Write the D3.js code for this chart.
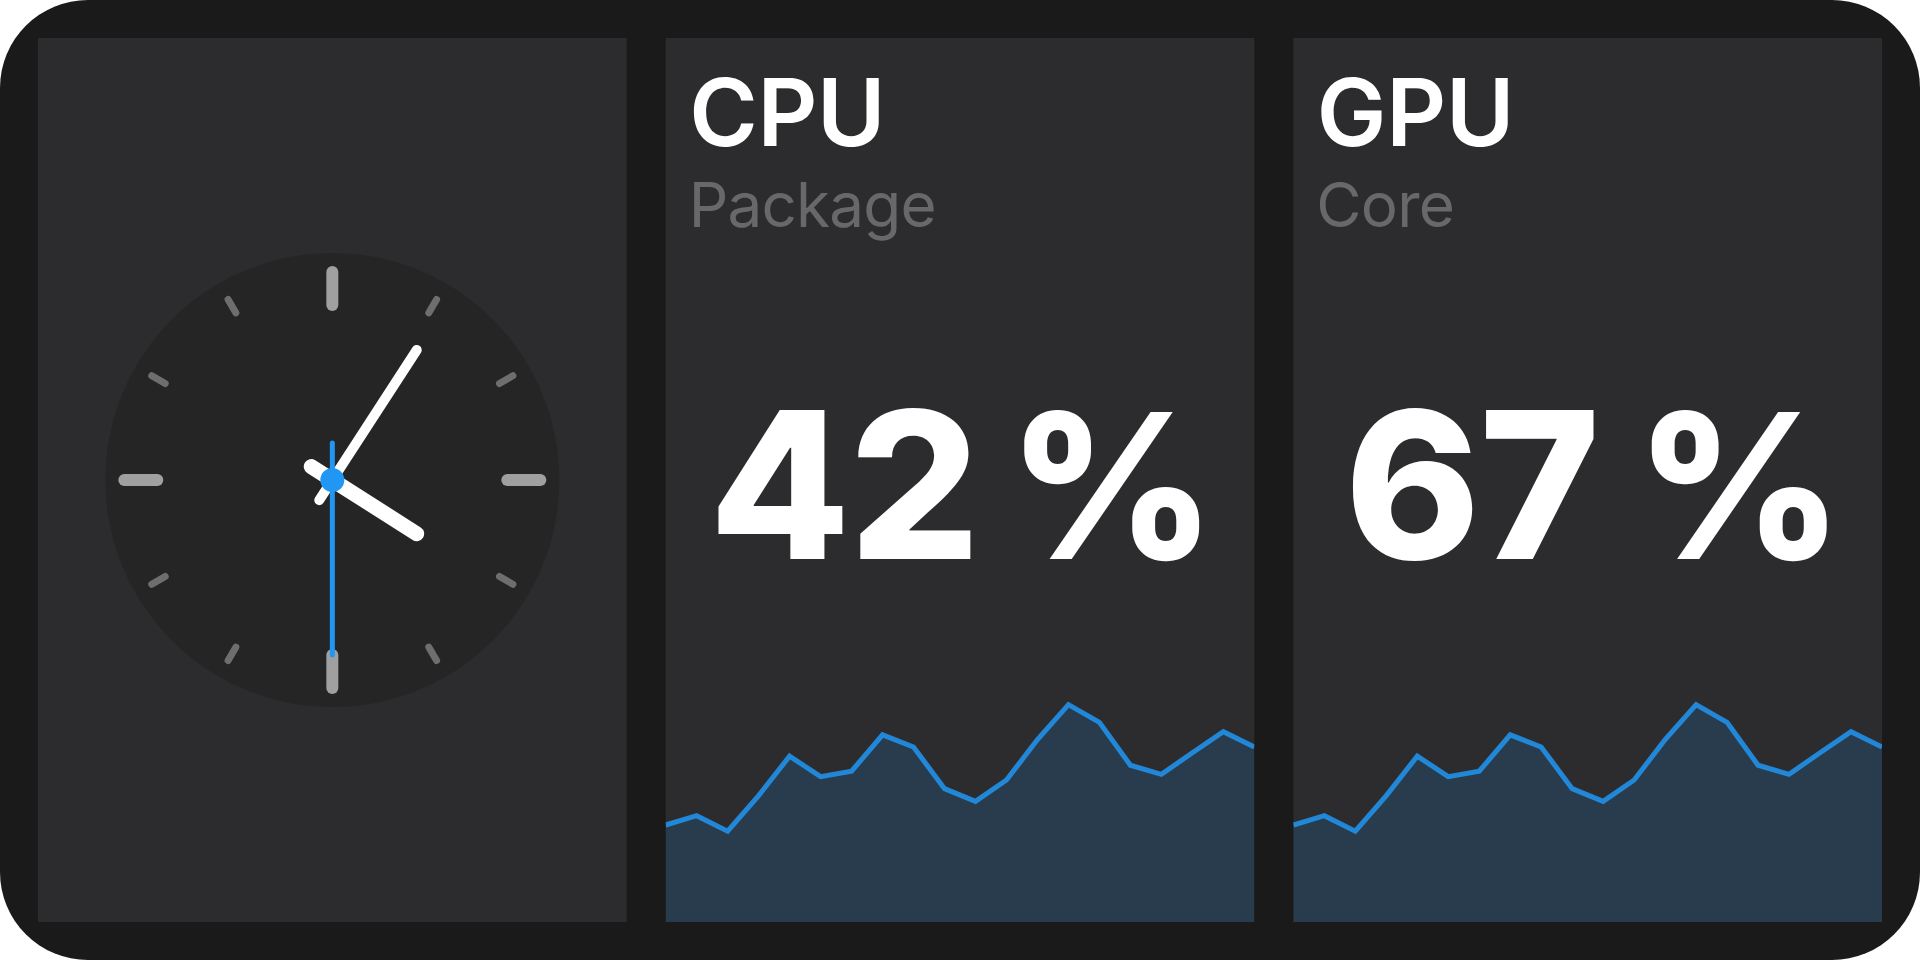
<!DOCTYPE html>
<html><head><meta charset="utf-8">
<script src="https://cdn.jsdelivr.net/npm/d3@7"></script>
<style>html,body{margin:0;padding:0;background:#fff;overflow:hidden}svg{display:block}
text{font-family:Inter,"Noto Sans",sans-serif}</style></head>
<body><svg id="c" width="1920" height="960"></svg>
<script>
const panelNames = ["clock","CPU","GPU"];
const subLabels = {CPU:"Package",GPU:"Core"};
const readings = {CPU:"42",GPU:"67"};
const unit = "%";
const cpuHistory = [37.3,40.9,34.9,48.6,63.8,55.9,58,72,67.3,51.3,46.4,54.6,70.2,83.6,76.8,60.3,56.8,65.1,73.2,67.3];
const gpuHistory = [37.3,40.9,34.9,48.6,63.8,55.9,58,72,67.3,51.3,46.4,54.6,70.2,83.6,76.8,60.3,56.8,65.1,73.2,67.3];
const clockTime = {h:4,m:5,s:30};
const W=1920,H=960,pad=38,gap=39;
const svg=d3.select("#c");
svg.append("rect").attr("width",W).attr("height",H).attr("rx",88).attr("ry",88).attr("fill","#1a1a1a");
const pw=(W-2*pad-2*gap)/3, ph=H-2*pad;
const xBand=d3.scalePoint().domain(panelNames).range([pad,pad+2*(pw+gap)]);
const defs=svg.append("defs");
panelNames.forEach(n=>{
  const g=svg.append("g").attr("transform",`translate(${xBand(n)},${pad})`);
  g.append("rect").attr("width",pw).attr("height",ph).attr("fill","#2c2c2e");
  if(n==="clock"){drawClock(g);return;}
  defs.append("clipPath").attr("id","clip"+n).append("rect").attr("width",pw).attr("height",ph);
  const vals=n==="CPU"?cpuHistory:gpuHistory;
  const x=d3.scaleLinear().domain([0,vals.length-1]).range([0,pw]);
  const y=d3.scaleLinear().domain([0,100]).range([ph,ph-260]);
  const cg=g.append("g").attr("clip-path",`url(#clip${n})`);
  cg.append("path").attr("d",d3.area().x((d,i)=>x(i)).y0(ph).y1(d=>y(d))(vals)).attr("fill","#2196f3").attr("fill-opacity",0.16);
  cg.append("path").attr("d",d3.line().x((d,i)=>x(i)).y(d=>y(d))(vals)).attr("fill","none").attr("stroke","#2196f3").attr("stroke-opacity",.85).attr("stroke-width",5);
  g.append("text").attr("x",23.5).attr("y",108).attr("fill","#fff").attr("font-size",93).attr("font-weight",600).attr("letter-spacing",-0.3).text(n);
  g.append("text").attr("x",23).attr("y",188.5).attr("fill","#68686b").attr("font-size",62).attr("font-weight",400).attr("letter-spacing",-0.8).text(subLabels[n]);
  g.append("text").attr("x",178.5).attr("y",521).attr("text-anchor","middle").attr("fill","#fff").attr("font-size",205).attr("font-weight",800).attr("letter-spacing",-1).text(readings[n]);
  g.append("text").attr("x",342).attr("y",520.5).attr("fill","#fff").attr("font-size",202).attr("font-weight",800).text(unit);
});
function drawClock(g){
  const cx=pw/2,cy=ph/2+0;
  const c=g.append("g").attr("transform",`translate(${cx},${cy})`);
  c.append("circle").attr("r",227).attr("fill","#252525");
  const ang=d3.scaleLinear().domain([0,12]).range([0,360]);
  c.selectAll("line.tick").data(d3.range(12)).join("line").attr("class","tick")
    .attr("transform",d=>`rotate(${ang(d)})`)
    .attr("y1",d=>d%3===0?-175:-193).attr("y2",d=>d%3===0?-208:-208.5)
    .attr("stroke",d=>d%3===0?"#a0a0a0":"#6e6e6e")
    .attr("stroke-width",d=>d%3===0?12:7).attr("stroke-linecap","round");
  const {h,m,s}=clockTime;
  const hand=(a,len,tail,w,col)=>c.append("line").attr("transform",`rotate(${a})`)
    .attr("y1",tail).attr("y2",-len).attr("stroke",col).attr("stroke-width",w).attr("stroke-linecap","round");
  hand((h%12+m/60)*30,100,25,15,"#fff");
  hand((m+s/60)*6,155,24,10,"#fff");
  hand(s*6,175,37,5,"#2196f3");
  c.append("circle").attr("r",12).attr("fill","#2196f3");
}
</script></body></html>
